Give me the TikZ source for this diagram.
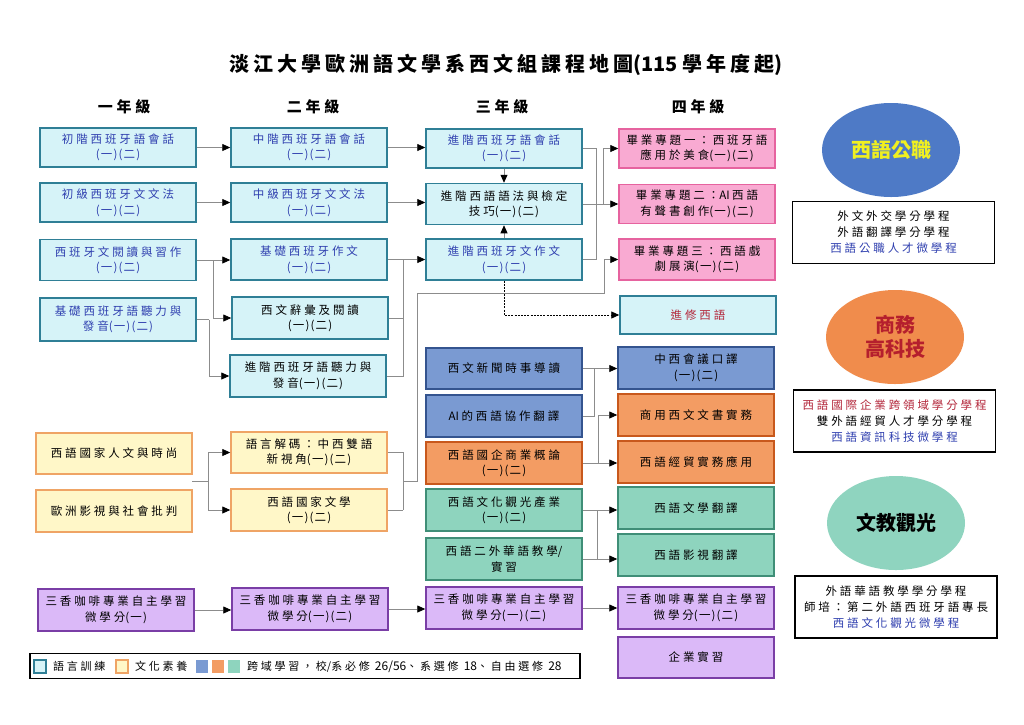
\documentclass[tikz,border=0pt]{standalone}
\usepackage{fontspec}
\setmainfont{Noto Sans CJK TC}[LetterSpace=25]
\newfontfamily\titlefont{Noto Sans CJK TC}[LetterSpace=20]
\newfontfamily\plainsans{Noto Sans CJK TC}
\newfontfamily\parenfont{Noto Sans CJK TC}[LetterSpace=10]
\newcommand\oneTwo{{\parenfont(一)(二)}}
\newcommand\onlyOne{{\parenfont(一)}}
\newcommand\lat[1]{{\plainsans #1}}
\newcommand\legnum[1]{{\plainsans\fontsize{12}{12}\selectfont #1}}
\usetikzlibrary{arrows.meta,shapes.geometric}
\definecolor{langfill}{HTML}{D6F3F8}
\definecolor{langdraw}{HTML}{2F7F96}
\definecolor{txtblue}{HTML}{2F3FAF}
\definecolor{pinkfill}{HTML}{F9AAD2}
\definecolor{pinkdraw}{HTML}{E6639F}
\definecolor{culfill}{HTML}{FFF7C8}
\definecolor{culdraw}{HTML}{EFA465}
\definecolor{xbfill}{HTML}{7A9AD2}
\definecolor{xbdraw}{HTML}{34548F}
\definecolor{xofill}{HTML}{F39C63}
\definecolor{xodraw}{HTML}{C8581C}
\definecolor{xtfill}{HTML}{8ED4BE}
\definecolor{xtdraw}{HTML}{3F8E77}
\definecolor{pufill}{HTML}{DBB9F8}
\definecolor{pudraw}{HTML}{7A3EA6}
\definecolor{ellone}{HTML}{4E7AC6}
\definecolor{elltwo}{HTML}{F08C4C}
\definecolor{ellthree}{HTML}{8FD4BF}
\definecolor{elltxtone}{HTML}{F0F020}
\definecolor{elltxttwo}{HTML}{B51F2D}
\definecolor{txtred}{HTML}{B3263A}
\definecolor{linegray}{HTML}{8C8C8C}
\tikzset{
  box/.style={draw, line width=1.5pt, minimum width=156pt, minimum height=41pt,
    align=center, inner sep=2pt, font=\fontsize{11.5}{15.5}\selectfont},
  lang/.style={box, fill=langfill, draw=langdraw},
  pinkbox/.style={box, fill=pinkfill, draw=pinkdraw},
  cul/.style={box, fill=culfill, draw=culdraw},
  xblue/.style={box, fill=xbfill, draw=xbdraw},
  xorange/.style={box, fill=xofill, draw=xodraw},
  xteal/.style={box, fill=xtfill, draw=xtdraw},
  purp/.style={box, fill=pufill, draw=pudraw},
  line/.style={draw=linegray, line width=0.8pt},
  conn/.style={line, -{Triangle[length=8pt,width=7pt,color=black]}},
  dconn/.style={draw=black, line width=0.9pt, dash pattern=on 2pt off 1.2pt, -{Triangle[length=8pt,width=7pt,color=black]}},
  yearhead/.style={font=\fontsize{15}{18}\selectfont\bfseries},
  ell/.style={ellipse, minimum width=138pt, minimum height=94pt, align=center,
    font=\plainsans\fontsize{20}{24}\selectfont\bfseries},
  progbox/.style={draw=black, line width=1.1pt, minimum width=202pt, minimum height=62pt,
    align=center, font=\fontsize{11.5}{16}\selectfont},
  legsq/.style={minimum width=12pt, minimum height=13pt, inner sep=0pt},
  legtxt/.style={anchor=west, inner sep=0pt, font=\fontsize{11}{12}\selectfont},
}
\begin{document}
\begin{tikzpicture}[x=1pt,y=-1pt]
\useasboundingbox[fill=white] (0,0) rectangle (1024,724);

% title and year headers
\node[font=\titlefont\fontsize{20}{24}\selectfont\bfseries] (title) at (506,65) {淡江大學歐洲語文學系西文組課程地圖{\plainsans(115 }學年度起{\plainsans)}};
\node[yearhead] (y1) at (124,107) {一年級};
\node[yearhead] (y2) at (313,107) {二年級};
\node[yearhead] (y3) at (502,107) {三年級};
\node[yearhead] (y4) at (698,107) {四年級};

% column 1
\node[lang, text=txtblue, minimum height=39pt] (c1a) at (118,147.5) {初階西班牙語會話\\\oneTwo};
\node[lang, text=txtblue, minimum height=39pt] (c1b) at (118,202.5) {初級西班牙文文法\\\oneTwo};
\node[lang, text=txtblue] (c1c) at (118,260) {西班牙文閱讀與習作\\\oneTwo};
\node[lang, text=txtblue, minimum height=43pt] (c1d) at (118,319.5) {基礎西班牙語聽力與\\發音\oneTwo};
\node[cul] (c1e) at (114,453.5) {西語國家人文與時尚};
\node[cul, minimum height=42pt] (c1f) at (114,511) {歐洲影視與社會批判};
\node[purp, minimum height=42pt] (c1g) at (116,610) {三香咖啡專業自主學習\\微學分\onlyOne};

% column 2
\node[lang, text=txtblue, minimum height=39pt] (c2a) at (309,147.5) {中階西班牙語會話\\\oneTwo};
\node[lang, text=txtblue, minimum height=39pt] (c2b) at (309,202.5) {中級西班牙文文法\\\oneTwo};
\node[lang, text=txtblue] (c2c) at (309,259.5) {基礎西班牙作文\\\oneTwo};
\node[lang, minimum height=42pt] (c2d) at (310,318) {西文辭彙及閱讀\\\oneTwo};
\node[lang, minimum height=42pt] (c2e) at (308,376) {進階西班牙語聽力與\\發音\oneTwo};
\node[cul] (c2f) at (309,452.5) {語言解碼：中西雙語\\新視角\oneTwo};
\node[cul, minimum height=42pt] (c2g) at (309,510) {西語國家文學\\\oneTwo};
\node[purp, minimum height=42pt] (c2h) at (310,609) {三香咖啡專業自主學習\\微學分\oneTwo};

% column 3
\node[lang, text=txtblue, minimum height=39pt] (c3a) at (504,148.5) {進階西班牙語會話\\\oneTwo};
\node[lang] (c3b) at (504,204) {進階西語語法與檢定\\技巧\oneTwo};
\node[lang, text=txtblue] (c3c) at (504,259.5) {進階西班牙文作文\\\oneTwo};
\node[xblue] (c3d) at (504,368.5) {西文新聞時事導讀};
\node[xblue, minimum height=42pt] (c3e) at (504,416) {\lat{AI }的西語協作翻譯};
\node[xorange, minimum height=42pt] (c3f) at (504,463) {西語國企商業概論\\\oneTwo};
\node[xteal, minimum height=42pt] (c3g) at (504,510) {西語文化觀光產業\\\oneTwo};
\node[xteal, minimum height=42pt] (c3h) at (504,559) {西語二外華語教學\lat{/}\\實習};
\node[purp, minimum height=42pt] (c3i) at (504,608) {三香咖啡專業自主學習\\微學分\oneTwo};

% column 4
\node[pinkbox, minimum height=39pt] (c4a) at (697,148.5) {畢業專題一：西班牙語\\應用於美食\oneTwo};
\node[pinkbox, minimum height=39pt] (c4b) at (697,204) {畢業專題二：\lat{AI }西語\\有聲書創作\oneTwo};
\node[pinkbox] (c4c) at (697,259.5) {畢業專題三：西語戲\\劇展演\oneTwo};
\node[lang, text=txtred, minimum height=38pt] (c4d) at (698,315) {進修西語};
\node[xblue, minimum height=42pt] (c4e) at (696,368) {中西會議口譯\\\oneTwo};
\node[xorange, minimum height=42pt] (c4f) at (696,415) {商用西文文書實務};
\node[xorange, minimum height=42pt] (c4g) at (696,462) {西語經貿實務應用};
\node[xteal, minimum height=42pt] (c4h) at (696,508) {西語文學翻譯};
\node[xteal, minimum height=42pt] (c4i) at (696,555) {西語影視翻譯};
\node[purp, minimum height=42pt] (c4j) at (696,608) {三香咖啡專業自主學習\\微學分\oneTwo};
\node[purp, minimum height=41pt] (c4k) at (696,657.5) {企業實習};

% junction coordinates
\coordinate (j1a) at (213,0);
\coordinate (j1b) at (209,0);
\coordinate (j1c) at (208,0);
\coordinate (cs) at (192,481);
\coordinate (j2) at (403,0);
\coordinate (j2b) at (417,0);
\coordinate (k2) at (0,293);
\coordinate (j3a) at (596,0);
\coordinate (j3b) at (603,0);
\coordinate (j3c) at (604,0);
\coordinate (j4a) at (594,0);
\coordinate (j4b) at (598,0);
\coordinate (j4c) at (597,0);

% year 1 -> year 2
\draw[conn] (c1a.east) -- (c1a.east -| c2a.west);
\draw[conn] (c1b.east) -- (c1b.east -| c2b.west);
\draw[conn] (c1c.east) -- (c1c.east -| c2c.west);
\draw[conn] (c1c.east -| j1a) |- (c2d.west);
\draw[line] (c1d.east) -- (c1d.east -| j1b);
\draw[conn] (c1d.east -| j1b) |- (c2e.west);
\draw[line] (cs) -- (cs -| j1c);
\draw[conn] (cs -| j1c) |- (c2f.west);
\draw[conn] (cs -| j1c) |- (c2g.west);
\draw[conn] (c1g.east) -- (c1g.east -| c2h.west);

% year 2 -> year 3
\draw[conn] (c2a.east) -- (c2a.east -| c3a.west);
\draw[conn] (c2b.east) -- (c2b.east -| c3b.west);
\draw[conn] (c2c.east) -- (c2c.east -| c3c.west);
\draw[line] (c2d.east) -| (c2c.east -| j2);
\draw[line] (c2e.east) -| (c2c.east -| j2);
\draw[line] (c2f.east) -| (c2g.east -| j2);
\draw[line] (c2g.east) -- (c2g.east -| j2);
\draw[conn] (cs -| j2) -- (cs -| j2b) -- (k2 -| j2b) -- (k2 -| j3c) |- (c4c.west);
\draw[conn] (c2h.east) -- (c2h.east -| c3i.west);

% year 3 internal
\draw[conn] (c3a.south) -- (c3b.north);
\draw[conn] (c3c.north) -- (c3b.south);
\draw[dconn] (c3c.south) |- (c4d.west);

% year 3 -> year 4
\draw[line] (c3a.east) -| (c3c.east -| j3a);
\draw[line] (c3c.east) -- (c3c.east -| j3a);
\draw[conn] (c3b.east) -- (c3b.east -| c4b.west);
\draw[conn] (c3b.east -| j3b) |- (c4a.west);
\draw[conn] (c3d.east) -- (c3d.east -| c4e.west);
\draw[line] (c3e.east) -| (c3d.east -| j4a);
\draw[conn] (c3f.east) -- (c3f.east -| c4g.west);
\draw[conn] (c3f.east -| j4b) |- (c4f.west);
\draw[line] (c3g.east) -| (c3h.east -| j4c);
\draw[conn] (c3g.east -| j4c) -- (c3g.east -| c4h.west);
\draw[conn] (c3h.east) -- (c3h.east -| c4i.west);
\draw[conn] (c3i.east) -- (c3i.east -| c4j.west);

% right side
\node[ell, fill=ellone, text=elltxtone] (e1) at (891,150) {西語公職};
\node[progbox] (p1) at (893.5,232.5) {外文外交學分學程\\外語翻譯學分學程\\\textcolor{txtblue}{西語公職人才微學程}};
\node[ell, fill=elltwo, text=elltxttwo] (e2) at (895,337) {商務\\高科技};
\node[progbox] (p2) at (894.5,421) {\textcolor{txtred}{西語國際企業跨領域學分學程}\\雙外語經貿人才學分學程\\\textcolor{txtblue}{西語資訊科技微學程}};
\node[ell, fill=ellthree, text=black] (e3) at (896,523) {文教觀光};
\node[progbox] (p3) at (896,607) {外語華語教學學分學程\\師培：第二外語西班牙語專長\\\textcolor{txtblue}{西語文化觀光微學程}};

% legend
\node[draw=black, line width=1.1pt, minimum width=550pt, minimum height=25pt, inner sep=0pt] (leg) at (305,666) {};
\node[legsq, fill=langfill, draw=langdraw, line width=1.2pt] (lg1) at (40,666.5) {};
\node[legtxt] (lt1) at (53,666.5) {語言訓練};
\node[legsq, fill=culfill, draw=culdraw, line width=1.2pt] (lg2) at (122,666.5) {};
\node[legtxt] (lt2) at (135,666.5) {文化素養};
\node[legsq, fill=xbfill] (lg3) at (202,666.5) {};
\node[legsq, fill=xofill] (lg4) at (218,666.5) {};
\node[legsq, fill=xtfill] (lg5) at (234,666.5) {};
\node[legtxt] (lt3) at (247,666.5) {跨域學習，校\lat{/}系必修 \legnum{26/56}、系選修 \legnum{18}、自由選修 \legnum{28}};
\end{tikzpicture}
\end{document}
